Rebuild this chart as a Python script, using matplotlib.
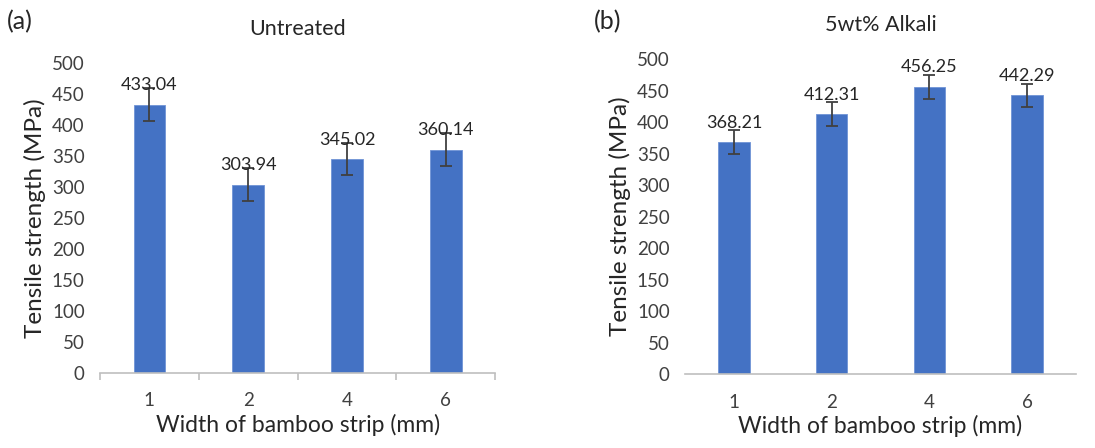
import matplotlib
matplotlib.use('Agg')
from matplotlib import pyplot as plt
import numpy as np

# ==== DATA ====
widths = ['1', '2', '4', '6']
untreated = [433.04, 303.94, 345.02, 360.14]
untreated_err = [27, 27, 26, 27]
alkali = [368.21, 412.31, 456.25, 442.29]
alkali_err = [19, 19, 19, 18]

BLUE = '#4472C4'
plt.rcParams['font.family'] = ['Lato', 'DejaVu Sans']

fig = plt.figure(figsize=(10.95, 4.48), dpi=100)


def panel(rect, vals, errs, title, tag, tag_x, minor_ticks):
    ax = fig.add_axes(rect)
    x = np.arange(len(widths))
    ax.bar(x, vals, width=0.32, color=BLUE, edgecolor='#6f93d6', linewidth=0.6, zorder=2)
    ax.errorbar(x, vals, yerr=errs, fmt='none', ecolor='#404040', elinewidth=1.3,
                capsize=4, capthick=1.3, zorder=3)
    for xi, v in zip(x, vals):
        ax.annotate(f'{v:.2f}', (xi, v), xytext=(0, 14), textcoords='offset points',
                    ha='center', va='center', fontsize=13, color='#262626', zorder=4)
    ax.set_xlim(-0.5, len(widths) - 0.5)
    ax.set_ylim(0, 500)
    ax.set_yticks(np.arange(0, 501, 50))
    ax.set_xticks(x)
    ax.set_xticklabels(widths)
    for s in ['top', 'right', 'left']:
        ax.spines[s].set_visible(False)
    ax.spines['bottom'].set_color('#bfbfbf')
    ax.spines['bottom'].set_linewidth(1.2)
    ax.tick_params(axis='y', length=0, pad=11, labelsize=13.5, labelcolor='#404040')
    ax.tick_params(axis='x', which='major', length=0, pad=14, labelsize=13.5, labelcolor='#404040')
    if minor_ticks:
        ax.set_xticks(np.arange(-0.5, len(widths), 1.0), minor=True)
        ax.tick_params(axis='x', which='minor', length=5, color='#bfbfbf', width=1.2)
    ax.set_ylabel('Tensile strength (MPa)', fontsize=17.5, color='#262626', labelpad=4)
    ax.set_xlabel('Width of bamboo strip (mm)', fontsize=16.5, color='#262626', labelpad=3)
    ax.set_title(title, fontsize=15.5, color='#262626', pad=20)
    fig.text(tag_x, 0.952, tag, fontsize=18, color='#262626', va='center', ha='left')
    return ax


panel([0.0913, 0.1674, 0.361, 0.692], untreated, untreated_err, 'Untreated', '(a)', 0.006, True)
panel([0.6256, 0.165, 0.357, 0.703], alkali, alkali_err, '5wt% Alkali', '(b)', 0.542, False)

fig.savefig('out.png', dpi=100)
